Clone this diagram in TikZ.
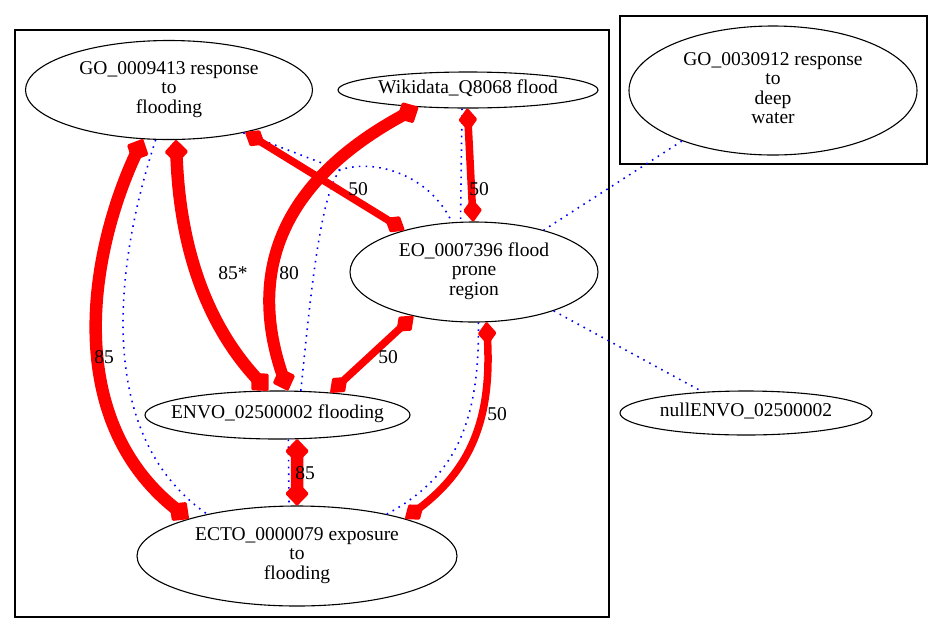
\documentclass[tikz,border=0pt]{standalone}
\usepackage{fontspec}
\setmainfont{Liberation Serif}
\usetikzlibrary{shapes.geometric,arrows.meta}
\newcommand{\nlbl}[1]{\makebox[0pt]{\raisebox{-4.5pt}{\begin{tabular}{@{}c@{}}#1\end{tabular}}}}
\begin{document}
\begin{tikzpicture}[x=1pt,y=-1pt,
  nd/.style={ellipse,draw,line width=1.1pt,inner sep=0pt,font=\fontsize{19.5}{19.5}\selectfont},
  lab/.style={inner sep=0pt,font=\fontsize{19.5}{19.5}\selectfont},
  clus/.style={draw,line width=1.2pt},
  dz/.style={blue,line width=1.6pt,dash pattern=on 1.6pt off 5.2pt},
  rA/.style={red,line width=12.5pt,{Diamond[length=25pt,width=24pt,line width=3pt,round]}-{Diamond[length=25pt,width=24pt,line width=3pt,round]}},
  rB/.style={red,line width=7.5pt,{Diamond[length=24pt,width=19pt,line width=3pt,round]}-{Diamond[length=24pt,width=19pt,line width=3pt,round]}},
]
\useasboundingbox (0,0) rectangle (943,633);
% clusters
\draw[clus] (15,30) rectangle (609,617);
\draw[clus] (620,16) rectangle (927,164);
% nodes
\node[nd,minimum width=287pt,minimum height=99pt] (GO) at (169,90) {\nlbl{GO\_0009413 response\\to\\flooding}};
\node[nd,minimum width=260pt,minimum height=36pt] (WD) at (468,90) {\nlbl{Wikidata\_Q8068 flood}};
\node[nd,minimum width=288pt,minimum height=129pt] (G30) at (773,90.5) {\nlbl{GO\_0030912 response\\to\\deep\\water}};
\node[nd,minimum width=248pt,minimum height=100pt] (EO) at (474,272) {\nlbl{EO\_0007396 flood\\prone\\region}};
\node[nd,minimum width=265pt,minimum height=48pt] (ENVO) at (277.5,415) {\nlbl{ENVO\_02500002 flooding}};
\node[nd,minimum width=320pt,minimum height=100pt] (ECTO) at (297,556) {\nlbl{ECTO\_0000079 exposure\\to\\flooding}};
\node[nd,minimum width=252pt,minimum height=44pt] (NULL) at (746,413) {\nlbl{nullENVO\_02500002}};
% dotted edges
\coordinate (J) at (340,170);
\draw[dz] (GO.255) .. controls (110,280) and (100,440) .. (ECTO.155);
\draw[dz] (GO.330) -- (J);
\draw[dz] (ENVO.46) .. controls (310,300) and (320,195) .. (J) .. controls (375,158) and (430,175) .. (EO.114);
\draw[dz] (WD.252) -- (EO.105);
\draw[dz] (ENVO.294) -- (ECTO.99);
\draw[dz] (EO.275) .. controls (480,430) and (450,480) .. (ECTO.25);
\draw[dz] (G30.209) -- (EO.31);
\draw[dz] (EO.334) -- (NULL.154);
% red edges
\draw[rA] (GO.242) .. controls (90,250) and (60,420) .. (ECTO.161);
\draw[rA] (GO.278) .. controls (180,270) and (220,340) .. (ENVO.111);
\draw[rB] (GO.331) -- (EO.149);
\draw[rA,line width=12pt] (WD.199) .. controls (300,170) and (240,255) .. (ENVO.67);
\draw[rB] (WD.268) -- (EO.91);
\draw[rB] (EO.216) -- (ENVO.23);
\draw[rB] (EO.284) .. controls (492,420) and (470,470) .. (ECTO.19);
\draw[rA] (ENVO.309) -- (ECTO.90);
% edge labels
\node[lab] (l1) at (104,357) {85};
\node[lab] (l2) at (233,273) {85*};
\node[lab] (l3) at (289,273) {80};
\node[lab] (l4) at (358,189) {50};
\node[lab] (l5) at (479,189) {50};
\node[lab] (l6) at (388,357) {50};
\node[lab] (l7) at (305,473) {85};
\node[lab] (l8) at (497,414) {50};
\end{tikzpicture}
\end{document}
